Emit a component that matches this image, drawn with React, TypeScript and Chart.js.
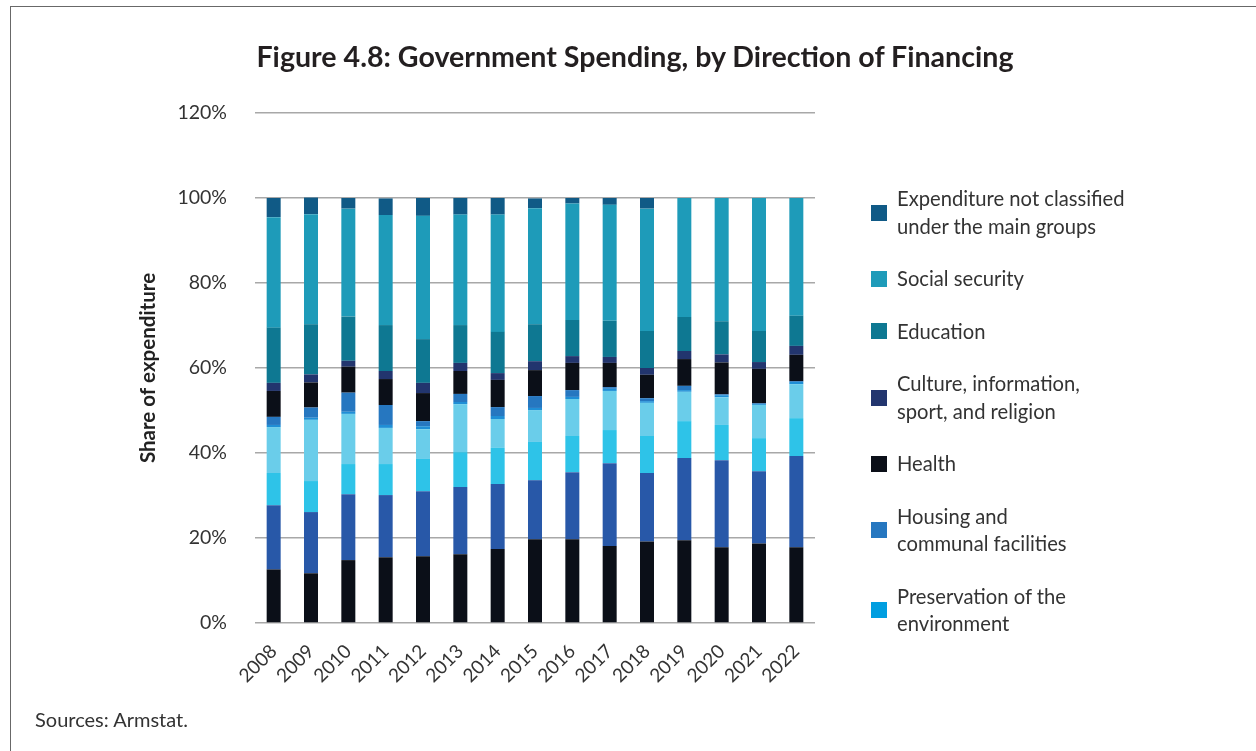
import React, { useEffect, useRef } from "react";
import { Chart, registerables } from "chart.js";

Chart.register(...registerables);

// ---- Data (percent of total expenditure) ----
const years = ["2008", "2009", "2010", "2011", "2012", "2013", "2014", "2015", "2016", "2017", "2018", "2019", "2020", "2021", "2022"];

const generalPublic = [12.6, 11.7, 14.8, 15.5, 15.7, 16.2, 17.4, 19.7, 19.7, 18.1, 19.2, 19.5, 17.8, 18.7, 17.8];
const defense = [15.1, 14.4, 15.5, 14.6, 15.3, 15.8, 15.3, 13.9, 15.8, 19.5, 16.1, 19.3, 20.5, 17.0, 21.5];
const publicOrder = [7.6, 7.3, 7.1, 7.3, 7.6, 8.2, 8.5, 9.0, 8.5, 7.8, 8.7, 8.7, 8.3, 7.8, 8.9];
const economic = [10.8, 14.4, 11.8, 8.5, 7.0, 11.3, 6.8, 7.5, 8.7, 9.2, 7.8, 6.9, 6.5, 7.8, 8.0];
const environment = [0.5, 0.5, 0.5, 0.7, 0.7, 0.5, 0.7, 0.5, 0.5, 0.5, 0.4, 0.4, 0.5, 0.2, 0.5];
const housing = [1.9, 2.4, 4.5, 4.7, 1.2, 1.9, 2.1, 2.8, 1.6, 0.4, 0.7, 1.0, 0.2, 0.2, 0.2];
const health = [6.1, 5.9, 6.1, 6.1, 6.6, 5.4, 6.4, 6.1, 6.4, 5.7, 5.5, 6.3, 7.5, 8.1, 6.2];
const culture = [1.9, 1.9, 1.4, 1.9, 2.4, 1.9, 1.6, 2.1, 1.6, 1.4, 1.6, 1.9, 1.9, 1.6, 2.1];
const education = [13.0, 11.8, 10.4, 10.8, 10.3, 8.9, 9.7, 8.7, 8.5, 8.5, 8.7, 8.0, 7.8, 7.3, 7.1];
const social = [26.0, 25.9, 25.4, 25.9, 29.0, 26.0, 27.6, 27.3, 27.4, 27.3, 28.8, 28.0, 29.0, 31.3, 27.7];
const notClassified = [4.5, 3.9, 2.5, 3.9, 4.2, 3.9, 3.9, 2.3, 1.3, 1.6, 2.5, 0, 0, 0, 0];

const yTicks = [0, 20, 40, 60, 80, 100, 120];

const seriesNames = [
  "General public services",
  "Defense",
  "Public order, security and judicial activities",
  "Economic relations",
  "Preservation of the environment",
  "Housing and communal facilities",
  "Health",
  "Culture, information, sport, and religion",
  "Education",
  "Social security",
  "Expenditure not classified under the main groups",
];
const seriesData = [generalPublic, defense, publicOrder, economic, environment, housing, health, culture, education, social, notClassified];
const seriesColors = ["#0b0f18", "#2858a8", "#2ec3e8", "#6acdea", "#1f8fd6", "#2677c0", "#0b0f18", "#22356e", "#0e7892", "#1e9bb9", "#105a86"];

// legend entries shown (top to bottom)
const legendItems: { lines: string[]; color: string }[] = [
  { lines: ["Expenditure not classified", "under the main groups"], color: "#105a86" },
  { lines: ["Social security"], color: "#1e9bb9" },
  { lines: ["Education"], color: "#0e7892" },
  { lines: ["Culture, information,", "sport, and religion"], color: "#22356e" },
  { lines: ["Health"], color: "#0b0f18" },
  { lines: ["Housing and", "communal facilities"], color: "#2677c0" },
  { lines: ["Preservation of the", "environment"], color: "#009ee0" },
];

const FONT = "Lato, 'Open Sans', sans-serif";

export default function App() {
  const canvasRef = useRef<HTMLCanvasElement | null>(null);

  useEffect(() => {
    if (!canvasRef.current) return;
    const chart = new Chart(canvasRef.current, {
      type: "bar",
      data: {
        labels: years,
        datasets: seriesNames.map((name, i) => ({
          label: name,
          data: seriesData[i],
          backgroundColor: seriesColors[i],
          borderWidth: 0,
          barPercentage: 0.375,
          categoryPercentage: 1,
        })),
      },
      options: {
        responsive: false,
        animation: false,
        layout: { padding: { left: 136, top: 113, right: 441, bottom: 0 } },
        plugins: {
          legend: { display: false },
          title: { display: false },
          tooltip: { enabled: false },
        },
        scales: {
          x: {
            stacked: true,
            offset: true,
            grid: { display: false, drawTicks: false },
            border: { display: false },
            ticks: {
              minRotation: 45,
              maxRotation: 45,
              padding: 17,
              color: "#333333",
              font: { family: FONT, size: 19 },
            },
            afterFit: (scale: any) => {
              scale.height = 128;
            },
          },
          y: {
            stacked: true,
            min: 0,
            max: 120,
            afterBuildTicks: (scale: any) => {
              scale.ticks = yTicks.map((v) => ({ value: v }));
            },
            grid: { color: "#a8a8a8", lineWidth: 1.5, drawTicks: false },
            border: { display: false },
            ticks: {
              padding: 28,
              color: "#333333",
              font: { family: FONT, size: 19.5 },
              callback: (v: any) => `${v}%`,
            },
            title: {
              display: true,
              text: "Share of expenditure",
              color: "#222222",
              font: { family: FONT, size: 20.5, weight: "bold" },
              padding: 0,
            },
            afterFit: (scale: any) => {
              scale.width = 119;
            },
          },
        },
      },
    });
    return () => chart.destroy();
  }, []);

  return (
    <div
      style={{
        position: "fixed",
        left: 0,
        top: 0,
        width: 1256,
        height: 751,
        background: "#ffffff",
        overflow: "hidden",
        fontFamily: FONT,
      }}
    >
      <div
        style={{
          position: "absolute",
          left: 10,
          top: 6,
          width: 1300,
          height: 800,
          borderTop: "1.5px solid #686868",
          borderLeft: "1.5px solid #686868",
        }}
      />
      <canvas ref={canvasRef} width={1256} height={751} style={{ position: "absolute", left: 0, top: 0 }} />
      <div
        style={{
          position: "absolute",
          left: 135,
          width: 1000,
          top: 37,
          textAlign: "center",
          fontWeight: 700,
          fontSize: 28.6,
          color: "#231f20",
          whiteSpace: "nowrap",
          lineHeight: "38px",
        }}
      >
        Figure 4.8: Government Spending, by Direction of Financing
      </div>
      <div
        style={{
          position: "absolute",
          left: 871,
          top: 185,
          display: "flex",
          flexDirection: "column",
          gap: 25,
        }}
      >
        {legendItems.map((it) => (
          <div key={it.lines.join(" ")} style={{ display: "flex", alignItems: "center" }}>
            <div style={{ width: 16, height: 16, background: it.color, marginRight: 10, flex: "none" }} />
            <div style={{ fontSize: 20.2, lineHeight: "27.5px", color: "#333333", whiteSpace: "nowrap" }}>
              {it.lines.map((l) => (
                <div key={l}>{l}</div>
              ))}
            </div>
          </div>
        ))}
      </div>
      <div
        style={{
          position: "absolute",
          left: 35,
          top: 707,
          fontSize: 20,
          color: "#333333",
          whiteSpace: "nowrap",
        }}
      >
        Sources: Armstat.
      </div>
    </div>
  );
}
